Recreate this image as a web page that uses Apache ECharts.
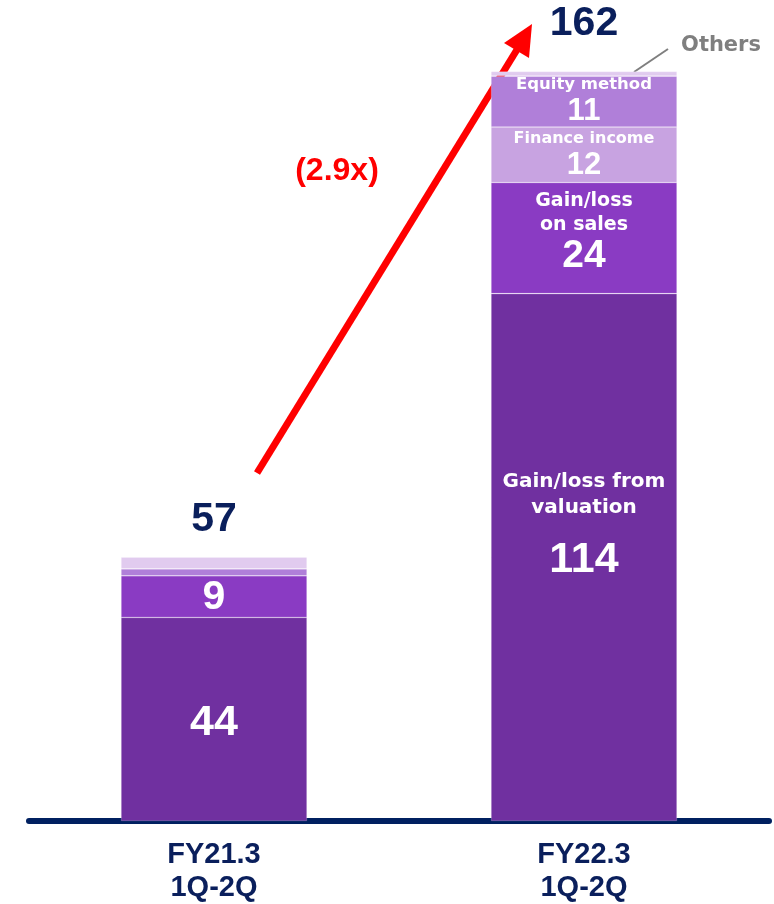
<!DOCTYPE html>
<html>
<head>
<meta charset="utf-8">
<script src="https://cdn.jsdelivr.net/npm/echarts@6/dist/echarts.min.js"></script>
<style>
  html, body { margin: 0; padding: 0; background: #ffffff; }
  #chart { width: 774px; height: 904px; }
</style>
</head>
<body>
<div id="chart"></div>
<script>
// Periods on the category axis
const categories = ['FY21.3\n1Q-2Q', 'FY22.3\n1Q-2Q'];

// Stacked components (billion yen), bottom to top
const valuation = [44, 114];
const sales = [9, 24];
const financeIncome = [0, 12];
const equityMethod = [1.5, 11];
const others = [2.5, 1];

// Totals printed above each bar
const totals = [57, 162];

// Segment captions for the second period
const segmentNames = {
  valuation: 'Gain/loss from\nvaluation',
  sales: 'Gain/loss\non sales',
  financeIncome: 'Finance income',
  equityMethod: 'Equity method'
};

const NAVY = '#0a1f5c';
const TXT_FONT = 'DejaVu Sans';
const NUM_FONT = 'Liberation Sans';

function bigNum(size) {
  return { color: '#fff', fontFamily: NUM_FONT, fontWeight: 'bold', fontSize: size };
}
function caption(size, lh) {
  return { color: '#fff', fontFamily: TXT_FONT, fontWeight: 'bold', fontSize: size, lineHeight: lh };
}

function seg(name, values, color, labelFor) {
  return {
    name: name,
    type: 'bar',
    stack: 'total',
    barWidth: 186,
    itemStyle: { color: color, borderColor: 'rgba(255,255,255,0.35)', borderWidth: 0.6 },
    emphasis: { disabled: true },
    data: values.map((v, i) => {
      const lab = labelFor ? labelFor(v, i) : null;
      return lab ? { value: v, label: lab } : { value: v, label: { show: false } };
    })
  };
}

const chart = echarts.init(document.getElementById('chart'), null, { renderer: 'canvas' });

const option = {
  animation: false,
  grid: { left: 29, right: 5, top: 16, bottom: 78 },
  xAxis: {
    type: 'category',
    data: categories,
    axisTick: { show: false },
    axisLine: { show: true, lineStyle: { color: '#002060', width: 6 } },
    axisLabel: {
      color: NAVY, fontFamily: NUM_FONT, fontWeight: 'bold', fontSize: 29,
      lineHeight: 33, margin: 17
    }
  },
  yAxis: { type: 'value', min: 0, max: 174, show: false, splitLine: { show: false } },
  series: [
    seg('Gain/loss from valuation', valuation, '#7030a0', (v, i) => ({
      show: true, position: 'inside',
      offset: i === 1 ? [0, -32] : [0, 4],
      formatter: i === 1
        ? '{c|' + segmentNames.valuation.split('\n').join('}\n{c|') + '}\n{g|}\n{n|' + v + '}'
        : '{n|' + v + '}',
      rich: { c: caption(20, 26), g: { height: 18 }, n: bigNum(43) }
    })),
    seg('Gain/loss on sales', sales, '#8a3bc3', (v, i) => ({
      show: true, position: 'inside',
      offset: i === 1 ? [0, -6] : [0, 1],
      formatter: i === 1
        ? '{c|' + segmentNames.sales.split('\n').join('}\n{c|') + '}\n{n|' + v + '}'
        : '{n|' + v + '}',
      rich: { c: caption(19, 24), n: bigNum(i === 1 ? 39 : 41) }
    })),
    seg('Finance income', financeIncome, '#c8a3e1', (v, i) => i === 1 ? ({
      show: true, position: 'inside', offset: [0, 0],
      formatter: '{c|' + segmentNames.financeIncome + '}\n{n|' + v + '}',
      rich: { c: caption(16, 22), n: { ...bigNum(31), lineHeight: 31 } }
    }) : null),
    seg('Equity method', equityMethod, '#b07fd9', (v, i) => i === 1 ? ({
      show: true, position: 'inside', offset: [0, -1],
      formatter: '{c|' + segmentNames.equityMethod + '}\n{n|' + v + '}',
      rich: { c: caption(16.5, 22), n: { ...bigNum(31), lineHeight: 31 } }
    }) : null),
    seg('Others', others, '#e1cbef', (v, i) => ({
      show: true, position: 'top', distance: i === 1 ? 27 : 17,
      formatter: String(totals[i]),
      color: NAVY, fontFamily: NUM_FONT, fontWeight: 'bold', fontSize: 41
    }))
  ],
  graphic: [
    // growth arrow between the two periods
    {
      type: 'line', silent: true,
      shape: { x1: 257, y1: 473, x2: 518, y2: 48 },
      style: { stroke: '#ff0000', lineWidth: 7 }
    },
    {
      type: 'polygon', silent: true,
      shape: { points: [[532, 24], [529, 58], [504, 43]] },
      style: { fill: '#ff0000' }
    },
    {
      type: 'text', silent: true, x: 337, y: 171,
      style: {
        text: '(2.9x)', fill: '#ff0000', font: 'bold 32px "Liberation Sans"',
        align: 'center', verticalAlign: 'middle'
      }
    },
    // callout for the thin top segment
    {
      type: 'line', silent: true,
      shape: { x1: 634, y1: 72, x2: 668, y2: 49 },
      style: { stroke: '#7f7f7f', lineWidth: 2 }
    },
    {
      type: 'text', silent: true, x: 721, y: 46,
      style: {
        text: 'Others', fill: '#7f7f7f', font: 'bold 21px "DejaVu Sans"',
        align: 'center', verticalAlign: 'middle'
      }
    }
  ]
};

chart.setOption(option);
</script>
</body>
</html>
